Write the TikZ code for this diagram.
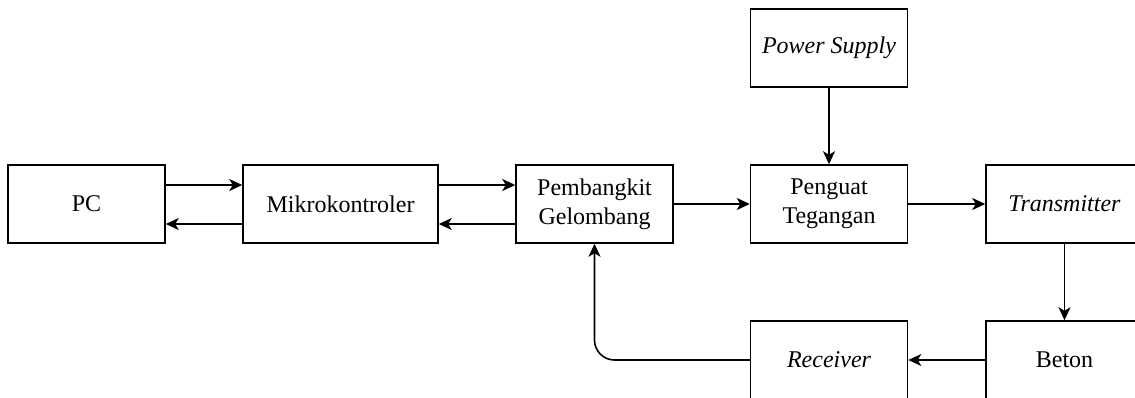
\documentclass[tikz,border=0pt]{standalone}
\usepackage{fontspec}
\setmainfont{Liberation Serif}
\usetikzlibrary{arrows.meta}
\begin{document}
\begin{tikzpicture}[x=1pt,y=-1pt,
  blk/.style={draw=black, line width=1.5pt, minimum width=157pt, minimum height=78pt,
    inner sep=0pt, align=center, font=\fontsize{24}{29}\selectfont},
  conn/.style={line width=1.6pt, -{Stealth[length=13pt,width=12pt,inset=3.5pt]}}]
\useasboundingbox (0,0) rectangle (1135,397);
\clip (0,0) rectangle (1135,397);
\fill[white] (0,0) rectangle (1135,397);
\node[blk] (pc) at (86.5,204) {PC};
\node[blk, minimum width=195pt] (mk) at (340.5,204) {Mikrokontroler};
\node[blk] (pg) at (594.5,204) {Pembangkit\\Gelombang};
\node[blk] (pt) at (829,204) {Penguat\\Tegangan};
\node[blk] (tx) at (1064.5,204) {\itshape Transmitter};
\node[blk] (ps) at (829,48) {\itshape Power Supply};
\node[blk] (rx) at (829,360) {\itshape Receiver};
\node[blk] (bt) at (1064.5,360) {Beton};
\draw[conn] ([yshift=19pt]pc.east) -- ([yshift=19pt]mk.west);
\draw[conn] ([yshift=-20pt]mk.west) -- ([yshift=-20pt]pc.east);
\draw[conn] ([yshift=19pt]mk.east) -- ([yshift=19pt]pg.west);
\draw[conn] ([yshift=-20pt]pg.west) -- ([yshift=-20pt]mk.east);
\draw[conn] (pg.east) -- (pt.west);
\draw[conn] (pt.east) -- (tx.west);
\draw[conn] (ps.south) -- (pt.north);
\draw[conn] (tx.south) -- (bt.north);
\draw[conn] (bt.west) -- (rx.east);
\draw[conn, rounded corners=20pt] (rx.west) -| (pg.south);
\end{tikzpicture}
\end{document}
